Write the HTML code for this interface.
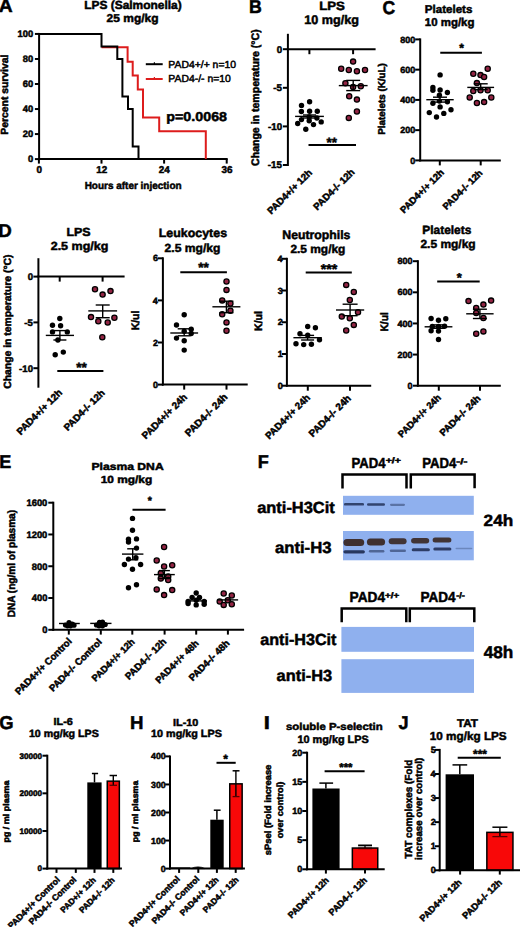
<!DOCTYPE html>
<html><head><meta charset="utf-8"><style>
html,body{margin:0;padding:0;background:#fff;}
body{width:520px;height:927px;overflow:hidden;}
svg{display:block;}
text{font-family:"Liberation Sans",sans-serif;stroke:#000;stroke-width:0.5px;text-rendering:geometricPrecision;}
</style></head><body>
<svg width="520" height="927" viewBox="0 0 520 927">
<rect width="520" height="927" fill="#fff"/>
<text transform="translate(-1.28,12.40) scale(1.0407,1)" font-size="18.5" font-weight="bold" fill="#000" >A</text>
<text transform="translate(84.22,8.75) scale(1.0208,1)" font-size="11.7" font-weight="bold" fill="#000" >LPS (Salmonella)</text>
<text transform="translate(106.58,21.60) scale(1.0522,1)" font-size="11.4" font-weight="bold" fill="#000" >25 mg/kg</text>
<line x1="39.10" y1="32.94" x2="39.10" y2="160.10" stroke="#000" stroke-width="2"/>
<line x1="34.90" y1="33.94" x2="39.10" y2="33.94" stroke="#000" stroke-width="2"/>
<line x1="34.90" y1="58.97" x2="39.10" y2="58.97" stroke="#000" stroke-width="2"/>
<line x1="34.90" y1="84.00" x2="39.10" y2="84.00" stroke="#000" stroke-width="2"/>
<line x1="34.90" y1="109.04" x2="39.10" y2="109.04" stroke="#000" stroke-width="2"/>
<line x1="34.90" y1="134.07" x2="39.10" y2="134.07" stroke="#000" stroke-width="2"/>
<line x1="34.90" y1="159.10" x2="39.10" y2="159.10" stroke="#000" stroke-width="2"/>
<text transform="translate(17.52,37.23) scale(1.0000,1)" font-size="9.4" font-weight="bold" fill="#000" >100</text>
<text transform="translate(22.74,62.26) scale(1.0000,1)" font-size="9.4" font-weight="bold" fill="#000" >80</text>
<text transform="translate(22.74,87.29) scale(1.0000,1)" font-size="9.4" font-weight="bold" fill="#000" >60</text>
<text transform="translate(22.74,112.33) scale(1.0000,1)" font-size="9.4" font-weight="bold" fill="#000" >40</text>
<text transform="translate(22.74,137.36) scale(1.0000,1)" font-size="9.4" font-weight="bold" fill="#000" >20</text>
<text transform="translate(27.96,162.39) scale(1.0000,1)" font-size="9.4" font-weight="bold" fill="#000" >0</text>
<line x1="38.10" y1="159.10" x2="227.71" y2="159.10" stroke="#000" stroke-width="2"/>
<line x1="38.90" y1="159.10" x2="38.90" y2="163.60" stroke="#000" stroke-width="2"/>
<line x1="101.50" y1="159.10" x2="101.50" y2="163.60" stroke="#000" stroke-width="2"/>
<line x1="164.11" y1="159.10" x2="164.11" y2="163.60" stroke="#000" stroke-width="2"/>
<line x1="226.71" y1="159.10" x2="226.71" y2="163.60" stroke="#000" stroke-width="2"/>
<text transform="translate(36.45,172.63) scale(1.0000,1)" font-size="9.9" font-weight="bold" fill="#000" >0</text>
<text transform="translate(96.19,172.63) scale(1.0000,1)" font-size="9.9" font-weight="bold" fill="#000" >12</text>
<text transform="translate(158.77,172.63) scale(1.0000,1)" font-size="9.9" font-weight="bold" fill="#000" >24</text>
<text transform="translate(221.57,172.63) scale(1.0000,1)" font-size="9.9" font-weight="bold" fill="#000" >36</text>
<text transform="translate(84.65,189.40) scale(0.9783,1)" font-size="10.2" font-weight="bold" fill="#000" >Hours after injection</text>
<text transform="translate(7.80,134.67) rotate(-90) scale(0.9970,1)" font-size="10.4" font-weight="bold" fill="#000" >Percent survival</text>
<path d="M101.50399999999999,47.2 H127.6 V61.72551999999999 H132.7 V75.61827999999998 H137.8 V89.51104 H143 V117.42172 H159.2 V131.31448 H205.8 V159.1" stroke="#dd1c1c" stroke-width="2" fill="none" />
<path d="M38.9,33.93999999999998 H101.50399999999999 V46.45599999999999 H117.3 V58.971999999999994 H122.4 V96.51999999999998 H128 V109.036 H132.7 V146.584 H138.5 V159.1" stroke="#000" stroke-width="2" fill="none" />
<line x1="145.80" y1="64.20" x2="162.70" y2="64.20" stroke="#000" stroke-width="2"/>
<line x1="154.40" y1="62.20" x2="154.40" y2="64.20" stroke="#000" stroke-width="1.2"/>
<line x1="145.80" y1="79.00" x2="162.70" y2="79.00" stroke="#dd1c1c" stroke-width="2"/>
<line x1="154.40" y1="77.00" x2="154.40" y2="79.00" stroke="#dd1c1c" stroke-width="1.2"/>
<text transform="translate(168.37,67.50) scale(1.0081,1)" font-size="10.3" font-weight="normal" fill="#000" >PAD4+/+ n=10</text>
<text transform="translate(168.37,81.90) scale(1.0088,1)" font-size="10.3" font-weight="normal" fill="#000" >PAD4-/- n=10</text>
<text transform="translate(166.27,121.20) scale(1.1082,1)" font-size="12.9" font-weight="bold" fill="#000" >p=0.0068</text>
<text transform="translate(248.95,12.70) scale(0.9570,1)" font-size="18.5" font-weight="bold" fill="#000" >B</text>
<text transform="translate(319.14,10.00) scale(1.1021,1)" font-size="12" font-weight="bold" fill="#000" >LPS</text>
<text transform="translate(304.18,24.40) scale(1.0102,1)" font-size="12.5" font-weight="bold" fill="#000" >10 mg/kg</text>
<line x1="287.90" y1="33.80" x2="287.90" y2="166.00" stroke="#000" stroke-width="2"/>
<line x1="282.90" y1="49.20" x2="287.90" y2="49.20" stroke="#000" stroke-width="2"/>
<line x1="282.90" y1="87.80" x2="287.90" y2="87.80" stroke="#000" stroke-width="2"/>
<line x1="282.90" y1="126.40" x2="287.90" y2="126.40" stroke="#000" stroke-width="2"/>
<line x1="282.90" y1="165.00" x2="287.90" y2="165.00" stroke="#000" stroke-width="2"/>
<text transform="translate(276.65,52.63) scale(1.0000,1)" font-size="9.8" font-weight="bold" fill="#000" >0</text>
<text transform="translate(273.22,91.23) scale(1.0000,1)" font-size="9.8" font-weight="bold" fill="#000" >-5</text>
<text transform="translate(267.93,129.83) scale(1.0000,1)" font-size="9.8" font-weight="bold" fill="#000" >-10</text>
<text transform="translate(267.78,168.43) scale(1.0000,1)" font-size="9.8" font-weight="bold" fill="#000" >-15</text>
<line x1="286.90" y1="49.20" x2="375.60" y2="49.20" stroke="#000" stroke-width="2"/>
<line x1="309.40" y1="49.20" x2="309.40" y2="54.20" stroke="#000" stroke-width="2"/>
<line x1="353.10" y1="49.20" x2="353.10" y2="54.20" stroke="#000" stroke-width="2"/>
<text transform="translate(258.50,165.92) rotate(-90) scale(0.9680,1)" font-size="10.9" font-weight="bold" fill="#000" >Change in temperature (°C)</text>
<circle cx="309.60" cy="101.80" r="2.70" fill="#000"/>
<circle cx="301.50" cy="105.40" r="2.70" fill="#000"/>
<circle cx="301.40" cy="111.50" r="2.70" fill="#000"/>
<circle cx="309.60" cy="111.20" r="2.70" fill="#000"/>
<circle cx="317.30" cy="111.30" r="2.70" fill="#000"/>
<circle cx="301.50" cy="119.60" r="2.70" fill="#000"/>
<circle cx="309.20" cy="116.90" r="2.70" fill="#000"/>
<circle cx="309.20" cy="120.80" r="2.70" fill="#000"/>
<circle cx="316.90" cy="118.00" r="2.70" fill="#000"/>
<circle cx="297.70" cy="123.50" r="2.70" fill="#000"/>
<circle cx="313.50" cy="124.60" r="2.70" fill="#000"/>
<circle cx="321.20" cy="121.90" r="2.70" fill="#000"/>
<circle cx="305.80" cy="129.20" r="2.70" fill="#000"/>
<line x1="295.10" y1="116.40" x2="323.90" y2="116.40" stroke="#000" stroke-width="1.4"/>
<line x1="303.00" y1="115.00" x2="316.00" y2="115.00" stroke="#000" stroke-width="1.4"/>
<line x1="303.00" y1="118.00" x2="316.00" y2="118.00" stroke="#000" stroke-width="1.4"/>
<line x1="309.50" y1="115.00" x2="309.50" y2="118.00" stroke="#000" stroke-width="1.4"/>
<circle cx="353.10" cy="61.60" r="2.60" fill="#922443" stroke="#000" stroke-width="1.3"/>
<circle cx="341.20" cy="68.80" r="2.60" fill="#922443" stroke="#000" stroke-width="1.3"/>
<circle cx="348.80" cy="70.00" r="2.60" fill="#922443" stroke="#000" stroke-width="1.3"/>
<circle cx="356.90" cy="71.30" r="2.60" fill="#922443" stroke="#000" stroke-width="1.3"/>
<circle cx="365.00" cy="70.00" r="2.60" fill="#922443" stroke="#000" stroke-width="1.3"/>
<circle cx="345.40" cy="83.30" r="2.60" fill="#922443" stroke="#000" stroke-width="1.3"/>
<circle cx="353.10" cy="87.10" r="2.60" fill="#922443" stroke="#000" stroke-width="1.3"/>
<circle cx="360.80" cy="86.20" r="2.60" fill="#922443" stroke="#000" stroke-width="1.3"/>
<circle cx="349.20" cy="96.20" r="2.60" fill="#922443" stroke="#000" stroke-width="1.3"/>
<circle cx="356.90" cy="99.60" r="2.60" fill="#922443" stroke="#000" stroke-width="1.3"/>
<circle cx="356.90" cy="111.50" r="2.60" fill="#922443" stroke="#000" stroke-width="1.3"/>
<circle cx="348.80" cy="117.90" r="2.60" fill="#922443" stroke="#000" stroke-width="1.3"/>
<line x1="338.80" y1="85.60" x2="367.60" y2="85.60" stroke="#000" stroke-width="1.4"/>
<line x1="346.20" y1="80.40" x2="360.20" y2="80.40" stroke="#000" stroke-width="1.4"/>
<line x1="346.20" y1="90.60" x2="360.20" y2="90.60" stroke="#000" stroke-width="1.4"/>
<line x1="353.20" y1="80.40" x2="353.20" y2="90.60" stroke="#000" stroke-width="1.4"/>
<line x1="308.50" y1="145.00" x2="356.00" y2="145.00" stroke="#000" stroke-width="2"/>
<text transform="translate(326.52,147.07) scale(1.0000,1)" font-size="13.4" font-weight="bold" fill="#000" >**</text>
<text transform="translate(271.28,214.69) rotate(-45) scale(1.0000,1)" font-size="9.7" font-weight="bold" fill="#000" >PAD4+/+ 12h</text>
<text transform="translate(317.25,210.63) rotate(-45) scale(1.0000,1)" font-size="9.7" font-weight="bold" fill="#000" >PAD4-/- 12h</text>
<text transform="translate(382.50,13.70) scale(0.9490,1)" font-size="18.5" font-weight="bold" fill="#000" >C</text>
<text transform="translate(424.85,12.50) scale(1.0231,1)" font-size="11.3" font-weight="bold" fill="#000" >Platelets</text>
<text transform="translate(424.86,25.60) scale(1.0133,1)" font-size="11.3" font-weight="bold" fill="#000" >10 mg/kg</text>
<line x1="420.20" y1="38.40" x2="420.20" y2="161.40" stroke="#000" stroke-width="2"/>
<line x1="415.20" y1="39.40" x2="420.20" y2="39.40" stroke="#000" stroke-width="2"/>
<line x1="415.20" y1="69.65" x2="420.20" y2="69.65" stroke="#000" stroke-width="2"/>
<line x1="415.20" y1="99.90" x2="420.20" y2="99.90" stroke="#000" stroke-width="2"/>
<line x1="415.20" y1="130.15" x2="420.20" y2="130.15" stroke="#000" stroke-width="2"/>
<line x1="415.20" y1="160.40" x2="420.20" y2="160.40" stroke="#000" stroke-width="2"/>
<text transform="translate(400.27,42.55) scale(1.0000,1)" font-size="9" font-weight="bold" fill="#000" >800</text>
<text transform="translate(400.27,72.80) scale(1.0000,1)" font-size="9" font-weight="bold" fill="#000" >600</text>
<text transform="translate(400.27,103.05) scale(1.0000,1)" font-size="9" font-weight="bold" fill="#000" >400</text>
<text transform="translate(400.27,133.30) scale(1.0000,1)" font-size="9" font-weight="bold" fill="#000" >200</text>
<text transform="translate(410.26,163.55) scale(1.0000,1)" font-size="9" font-weight="bold" fill="#000" >0</text>
<line x1="419.20" y1="160.40" x2="500.80" y2="160.40" stroke="#000" stroke-width="2"/>
<line x1="439.80" y1="160.40" x2="439.80" y2="165.40" stroke="#000" stroke-width="2"/>
<line x1="480.70" y1="160.40" x2="480.70" y2="165.40" stroke="#000" stroke-width="2"/>
<text transform="translate(385.30,134.74) rotate(-90) scale(0.9967,1)" font-size="9.9" font-weight="bold" fill="#000" >Platelets (K/uL)</text>
<circle cx="440.10" cy="74.90" r="2.70" fill="#000"/>
<circle cx="432.90" cy="87.40" r="2.70" fill="#000"/>
<circle cx="432.90" cy="90.30" r="2.70" fill="#000"/>
<circle cx="440.10" cy="90.00" r="2.70" fill="#000"/>
<circle cx="447.40" cy="92.50" r="2.70" fill="#000"/>
<circle cx="439.40" cy="95.30" r="2.70" fill="#000"/>
<circle cx="432.90" cy="103.30" r="2.70" fill="#000"/>
<circle cx="439.40" cy="101.10" r="2.70" fill="#000"/>
<circle cx="447.40" cy="101.80" r="2.70" fill="#000"/>
<circle cx="440.10" cy="106.90" r="2.70" fill="#000"/>
<circle cx="451.00" cy="109.80" r="2.70" fill="#000"/>
<circle cx="429.30" cy="112.60" r="2.70" fill="#000"/>
<circle cx="443.80" cy="113.40" r="2.70" fill="#000"/>
<circle cx="436.50" cy="117.00" r="2.70" fill="#000"/>
<line x1="426.30" y1="99.70" x2="453.70" y2="99.70" stroke="#000" stroke-width="1.4"/>
<line x1="433.00" y1="97.20" x2="447.00" y2="97.20" stroke="#000" stroke-width="1.4"/>
<line x1="433.00" y1="102.10" x2="447.00" y2="102.10" stroke="#000" stroke-width="1.4"/>
<line x1="440.00" y1="97.20" x2="440.00" y2="102.10" stroke="#000" stroke-width="1.4"/>
<circle cx="487.70" cy="68.70" r="2.60" fill="#922443" stroke="#000" stroke-width="1.3"/>
<circle cx="473.30" cy="73.70" r="2.60" fill="#922443" stroke="#000" stroke-width="1.3"/>
<circle cx="480.50" cy="75.10" r="2.60" fill="#922443" stroke="#000" stroke-width="1.3"/>
<circle cx="484.10" cy="77.00" r="2.60" fill="#922443" stroke="#000" stroke-width="1.3"/>
<circle cx="476.90" cy="83.10" r="2.60" fill="#922443" stroke="#000" stroke-width="1.3"/>
<circle cx="473.30" cy="91.00" r="2.60" fill="#922443" stroke="#000" stroke-width="1.3"/>
<circle cx="480.50" cy="90.30" r="2.60" fill="#922443" stroke="#000" stroke-width="1.3"/>
<circle cx="487.70" cy="90.30" r="2.60" fill="#922443" stroke="#000" stroke-width="1.3"/>
<circle cx="469.70" cy="97.50" r="2.60" fill="#922443" stroke="#000" stroke-width="1.3"/>
<circle cx="491.30" cy="97.50" r="2.60" fill="#922443" stroke="#000" stroke-width="1.3"/>
<circle cx="476.90" cy="103.00" r="2.60" fill="#922443" stroke="#000" stroke-width="1.3"/>
<circle cx="484.10" cy="102.10" r="2.60" fill="#922443" stroke="#000" stroke-width="1.3"/>
<line x1="467.30" y1="87.40" x2="494.10" y2="87.40" stroke="#000" stroke-width="1.4"/>
<line x1="473.70" y1="83.80" x2="487.70" y2="83.80" stroke="#000" stroke-width="1.4"/>
<line x1="473.70" y1="89.60" x2="487.70" y2="89.60" stroke="#000" stroke-width="1.4"/>
<line x1="480.70" y1="83.80" x2="480.70" y2="89.60" stroke="#000" stroke-width="1.4"/>
<line x1="440.25" y1="52.75" x2="481.90" y2="52.75" stroke="#000" stroke-width="2"/>
<text transform="translate(459.36,51.76) scale(1.0000,1)" font-size="12" font-weight="bold" fill="#000" >*</text>
<text transform="translate(403.93,213.74) rotate(-45) scale(1.0000,1)" font-size="9.5" font-weight="bold" fill="#000" >PAD4+/+ 12h</text>
<text transform="translate(446.41,210.31) rotate(-45) scale(1.0000,1)" font-size="9.4" font-weight="bold" fill="#000" >PAD4-/- 12h</text>
<text transform="translate(-1.72,237.30) scale(1.0108,1)" font-size="18.5" font-weight="bold" fill="#000" >D</text>
<text transform="translate(66.39,235.90) scale(1.0519,1)" font-size="11.8" font-weight="bold" fill="#000" >LPS</text>
<text transform="translate(50.66,249.60) scale(1.0617,1)" font-size="11.8" font-weight="bold" fill="#000" >2.5 mg/kg</text>
<line x1="38.40" y1="258.20" x2="38.40" y2="387.70" stroke="#000" stroke-width="2"/>
<line x1="33.40" y1="276.60" x2="38.40" y2="276.60" stroke="#000" stroke-width="2"/>
<line x1="33.40" y1="322.40" x2="38.40" y2="322.40" stroke="#000" stroke-width="2"/>
<line x1="33.40" y1="368.20" x2="38.40" y2="368.20" stroke="#000" stroke-width="2"/>
<text transform="translate(27.66,279.96) scale(1.0000,1)" font-size="9.6" font-weight="bold" fill="#000" >0</text>
<text transform="translate(24.30,325.76) scale(1.0000,1)" font-size="9.6" font-weight="bold" fill="#000" >-5</text>
<text transform="translate(19.11,371.56) scale(1.0000,1)" font-size="9.6" font-weight="bold" fill="#000" >-10</text>
<line x1="37.40" y1="276.60" x2="124.60" y2="276.60" stroke="#000" stroke-width="2"/>
<line x1="59.70" y1="276.60" x2="59.70" y2="281.60" stroke="#000" stroke-width="2"/>
<line x1="102.60" y1="276.60" x2="102.60" y2="281.60" stroke="#000" stroke-width="2"/>
<text transform="translate(11.20,388.71) rotate(-90) scale(0.9967,1)" font-size="10.4" font-weight="bold" fill="#000" >Change in temperature (°C)</text>
<circle cx="59.80" cy="318.50" r="2.70" fill="#000"/>
<circle cx="52.50" cy="325.20" r="2.70" fill="#000"/>
<circle cx="60.60" cy="325.70" r="2.70" fill="#000"/>
<circle cx="52.50" cy="331.90" r="2.70" fill="#000"/>
<circle cx="67.30" cy="331.90" r="2.70" fill="#000"/>
<circle cx="57.90" cy="340.00" r="2.70" fill="#000"/>
<circle cx="55.20" cy="354.80" r="2.70" fill="#000"/>
<circle cx="63.30" cy="352.10" r="2.70" fill="#000"/>
<line x1="45.80" y1="335.40" x2="74.00" y2="335.40" stroke="#000" stroke-width="1.4"/>
<line x1="53.40" y1="330.60" x2="66.40" y2="330.60" stroke="#000" stroke-width="1.4"/>
<line x1="53.40" y1="340.00" x2="66.40" y2="340.00" stroke="#000" stroke-width="1.4"/>
<line x1="59.90" y1="330.60" x2="59.90" y2="340.00" stroke="#000" stroke-width="1.4"/>
<circle cx="95.00" cy="289.30" r="2.60" fill="#922443" stroke="#000" stroke-width="1.3"/>
<circle cx="110.50" cy="291.10" r="2.60" fill="#922443" stroke="#000" stroke-width="1.3"/>
<circle cx="102.60" cy="294.60" r="2.60" fill="#922443" stroke="#000" stroke-width="1.3"/>
<circle cx="91.00" cy="317.10" r="2.60" fill="#922443" stroke="#000" stroke-width="1.3"/>
<circle cx="98.30" cy="321.20" r="2.60" fill="#922443" stroke="#000" stroke-width="1.3"/>
<circle cx="107.70" cy="322.50" r="2.60" fill="#922443" stroke="#000" stroke-width="1.3"/>
<circle cx="114.40" cy="317.70" r="2.60" fill="#922443" stroke="#000" stroke-width="1.3"/>
<circle cx="102.30" cy="337.30" r="2.60" fill="#922443" stroke="#000" stroke-width="1.3"/>
<line x1="88.30" y1="310.90" x2="117.10" y2="310.90" stroke="#000" stroke-width="1.4"/>
<line x1="95.70" y1="305.00" x2="109.70" y2="305.00" stroke="#000" stroke-width="1.4"/>
<line x1="95.70" y1="317.70" x2="109.70" y2="317.70" stroke="#000" stroke-width="1.4"/>
<line x1="102.70" y1="305.00" x2="102.70" y2="317.70" stroke="#000" stroke-width="1.4"/>
<line x1="57.30" y1="370.90" x2="103.40" y2="370.90" stroke="#000" stroke-width="2"/>
<text transform="translate(76.30,372.27) scale(1.0000,1)" font-size="13.6" font-weight="bold" fill="#000" >**</text>
<text transform="translate(20.64,435.44) rotate(-45) scale(1.0000,1)" font-size="9.9" font-weight="bold" fill="#000" >PAD4+/+ 12h</text>
<text transform="translate(67.73,431.19) rotate(-45) scale(1.0000,1)" font-size="9.6" font-weight="bold" fill="#000" >PAD4-/- 12h</text>
<text transform="translate(158.79,237.40) scale(1.0334,1)" font-size="12" font-weight="bold" fill="#000" >Leukocytes</text>
<text transform="translate(164.58,251.50) scale(1.0260,1)" font-size="11.8" font-weight="bold" fill="#000" >2.5 mg/kg</text>
<line x1="162.90" y1="257.30" x2="162.90" y2="385.60" stroke="#000" stroke-width="2"/>
<line x1="157.90" y1="258.30" x2="162.90" y2="258.30" stroke="#000" stroke-width="2"/>
<line x1="157.90" y1="300.40" x2="162.90" y2="300.40" stroke="#000" stroke-width="2"/>
<line x1="157.90" y1="342.50" x2="162.90" y2="342.50" stroke="#000" stroke-width="2"/>
<line x1="157.90" y1="384.60" x2="162.90" y2="384.60" stroke="#000" stroke-width="2"/>
<text transform="translate(152.92,261.45) scale(1.0000,1)" font-size="9" font-weight="bold" fill="#000" >6</text>
<text transform="translate(152.65,303.55) scale(1.0000,1)" font-size="9" font-weight="bold" fill="#000" >4</text>
<text transform="translate(152.97,345.65) scale(1.0000,1)" font-size="9" font-weight="bold" fill="#000" >2</text>
<text transform="translate(152.96,387.75) scale(1.0000,1)" font-size="9" font-weight="bold" fill="#000" >0</text>
<line x1="161.90" y1="384.60" x2="247.70" y2="384.60" stroke="#000" stroke-width="2"/>
<line x1="184.20" y1="384.60" x2="184.20" y2="389.60" stroke="#000" stroke-width="2"/>
<line x1="226.50" y1="384.60" x2="226.50" y2="389.60" stroke="#000" stroke-width="2"/>
<text transform="translate(138.70,330.28) rotate(-90) scale(0.9630,1)" font-size="10.8" font-weight="bold" fill="#000" >K/ul</text>
<circle cx="184.20" cy="314.70" r="2.70" fill="#000"/>
<circle cx="176.50" cy="325.00" r="2.70" fill="#000"/>
<circle cx="184.20" cy="331.20" r="2.70" fill="#000"/>
<circle cx="191.20" cy="329.20" r="2.70" fill="#000"/>
<circle cx="176.50" cy="338.10" r="2.70" fill="#000"/>
<circle cx="184.20" cy="340.80" r="2.70" fill="#000"/>
<circle cx="191.20" cy="333.50" r="2.70" fill="#000"/>
<circle cx="184.20" cy="350.10" r="2.70" fill="#000"/>
<line x1="170.30" y1="333.00" x2="198.10" y2="333.00" stroke="#000" stroke-width="1.4"/>
<line x1="177.70" y1="328.80" x2="190.70" y2="328.80" stroke="#000" stroke-width="1.4"/>
<line x1="177.70" y1="335.80" x2="190.70" y2="335.80" stroke="#000" stroke-width="1.4"/>
<line x1="184.20" y1="328.80" x2="184.20" y2="335.80" stroke="#000" stroke-width="1.4"/>
<circle cx="226.50" cy="281.50" r="2.60" fill="#922443" stroke="#000" stroke-width="1.3"/>
<circle cx="226.50" cy="289.90" r="2.60" fill="#922443" stroke="#000" stroke-width="1.3"/>
<circle cx="222.20" cy="300.40" r="2.60" fill="#922443" stroke="#000" stroke-width="1.3"/>
<circle cx="230.40" cy="303.50" r="2.60" fill="#922443" stroke="#000" stroke-width="1.3"/>
<circle cx="230.40" cy="310.70" r="2.60" fill="#922443" stroke="#000" stroke-width="1.3"/>
<circle cx="222.20" cy="314.20" r="2.60" fill="#922443" stroke="#000" stroke-width="1.3"/>
<circle cx="226.50" cy="322.40" r="2.60" fill="#922443" stroke="#000" stroke-width="1.3"/>
<circle cx="226.50" cy="330.70" r="2.60" fill="#922443" stroke="#000" stroke-width="1.3"/>
<line x1="212.40" y1="306.80" x2="240.40" y2="306.80" stroke="#000" stroke-width="1.4"/>
<line x1="219.40" y1="301.20" x2="233.40" y2="301.20" stroke="#000" stroke-width="1.4"/>
<line x1="219.40" y1="312.70" x2="233.40" y2="312.70" stroke="#000" stroke-width="1.4"/>
<line x1="226.40" y1="301.20" x2="226.40" y2="312.70" stroke="#000" stroke-width="1.4"/>
<line x1="180.30" y1="272.20" x2="226.90" y2="272.20" stroke="#000" stroke-width="2"/>
<text transform="translate(198.30,272.37) scale(1.0000,1)" font-size="13.6" font-weight="bold" fill="#000" >**</text>
<text transform="translate(145.86,439.56) rotate(-45) scale(1.0000,1)" font-size="9.8" font-weight="bold" fill="#000" >PAD4+/+ 24h</text>
<text transform="translate(188.99,436.94) rotate(-45) scale(1.0000,1)" font-size="10" font-weight="bold" fill="#000" >PAD4-/- 24h</text>
<text transform="translate(282.30,238.90) scale(1.0062,1)" font-size="12.2" font-weight="bold" fill="#000" >Neutrophils</text>
<text transform="translate(290.38,252.50) scale(1.0109,1)" font-size="11.8" font-weight="bold" fill="#000" >2.5 mg/kg</text>
<line x1="286.90" y1="257.80" x2="286.90" y2="386.70" stroke="#000" stroke-width="2"/>
<line x1="281.90" y1="258.80" x2="286.90" y2="258.80" stroke="#000" stroke-width="2"/>
<line x1="281.90" y1="290.52" x2="286.90" y2="290.52" stroke="#000" stroke-width="2"/>
<line x1="281.90" y1="322.25" x2="286.90" y2="322.25" stroke="#000" stroke-width="2"/>
<line x1="281.90" y1="353.98" x2="286.90" y2="353.98" stroke="#000" stroke-width="2"/>
<line x1="281.90" y1="385.70" x2="286.90" y2="385.70" stroke="#000" stroke-width="2"/>
<text transform="translate(277.45,261.95) scale(1.0000,1)" font-size="9" font-weight="bold" fill="#000" >4</text>
<text transform="translate(277.72,293.67) scale(1.0000,1)" font-size="9" font-weight="bold" fill="#000" >3</text>
<text transform="translate(277.76,325.40) scale(1.0000,1)" font-size="9" font-weight="bold" fill="#000" >2</text>
<text transform="translate(277.63,357.12) scale(1.0000,1)" font-size="9" font-weight="bold" fill="#000" >1</text>
<text transform="translate(277.76,388.85) scale(1.0000,1)" font-size="9" font-weight="bold" fill="#000" >0</text>
<line x1="285.90" y1="385.70" x2="371.20" y2="385.70" stroke="#000" stroke-width="2"/>
<line x1="307.80" y1="385.70" x2="307.80" y2="390.70" stroke="#000" stroke-width="2"/>
<line x1="350.00" y1="385.70" x2="350.00" y2="390.70" stroke="#000" stroke-width="2"/>
<text transform="translate(262.40,330.99) rotate(-90) scale(0.9788,1)" font-size="10.8" font-weight="bold" fill="#000" >K/ul</text>
<circle cx="307.70" cy="326.50" r="2.70" fill="#000"/>
<circle cx="315.40" cy="327.70" r="2.70" fill="#000"/>
<circle cx="300.00" cy="333.80" r="2.70" fill="#000"/>
<circle cx="307.70" cy="335.10" r="2.70" fill="#000"/>
<circle cx="319.50" cy="339.70" r="2.70" fill="#000"/>
<circle cx="296.00" cy="343.80" r="2.70" fill="#000"/>
<circle cx="303.70" cy="344.60" r="2.70" fill="#000"/>
<circle cx="311.40" cy="344.30" r="2.70" fill="#000"/>
<line x1="293.40" y1="337.70" x2="321.80" y2="337.70" stroke="#000" stroke-width="1.4"/>
<line x1="301.10" y1="335.40" x2="314.10" y2="335.40" stroke="#000" stroke-width="1.4"/>
<line x1="301.10" y1="340.00" x2="314.10" y2="340.00" stroke="#000" stroke-width="1.4"/>
<line x1="307.60" y1="335.40" x2="307.60" y2="340.00" stroke="#000" stroke-width="1.4"/>
<circle cx="346.20" cy="284.90" r="2.60" fill="#922443" stroke="#000" stroke-width="1.3"/>
<circle cx="353.80" cy="292.00" r="2.60" fill="#922443" stroke="#000" stroke-width="1.3"/>
<circle cx="349.80" cy="300.00" r="2.60" fill="#922443" stroke="#000" stroke-width="1.3"/>
<circle cx="358.00" cy="312.30" r="2.60" fill="#922443" stroke="#000" stroke-width="1.3"/>
<circle cx="341.80" cy="316.60" r="2.60" fill="#922443" stroke="#000" stroke-width="1.3"/>
<circle cx="349.80" cy="318.20" r="2.60" fill="#922443" stroke="#000" stroke-width="1.3"/>
<circle cx="353.80" cy="324.90" r="2.60" fill="#922443" stroke="#000" stroke-width="1.3"/>
<circle cx="346.20" cy="330.50" r="2.60" fill="#922443" stroke="#000" stroke-width="1.3"/>
<line x1="336.00" y1="310.00" x2="364.20" y2="310.00" stroke="#000" stroke-width="1.4"/>
<line x1="342.60" y1="304.20" x2="357.60" y2="304.20" stroke="#000" stroke-width="1.4"/>
<line x1="342.60" y1="315.70" x2="357.60" y2="315.70" stroke="#000" stroke-width="1.4"/>
<line x1="350.10" y1="304.20" x2="350.10" y2="315.70" stroke="#000" stroke-width="1.4"/>
<line x1="305.70" y1="272.60" x2="351.80" y2="272.60" stroke="#000" stroke-width="2"/>
<text transform="translate(320.79,273.57) scale(1.0000,1)" font-size="14.2" font-weight="bold" fill="#000" >***</text>
<text transform="translate(269.28,439.69) rotate(-45) scale(1.0000,1)" font-size="9.7" font-weight="bold" fill="#000" >PAD4+/+ 24h</text>
<text transform="translate(312.87,437.60) rotate(-45) scale(1.0000,1)" font-size="9.9" font-weight="bold" fill="#000" >PAD4-/- 24h</text>
<text transform="translate(422.33,233.80) scale(1.0008,1)" font-size="11.9" font-weight="bold" fill="#000" >Platelets</text>
<text transform="translate(420.38,248.00) scale(1.0166,1)" font-size="11.8" font-weight="bold" fill="#000" >2.5 mg/kg</text>
<line x1="417.90" y1="260.20" x2="417.90" y2="386.70" stroke="#000" stroke-width="2"/>
<line x1="412.90" y1="261.20" x2="417.90" y2="261.20" stroke="#000" stroke-width="2"/>
<line x1="412.90" y1="292.32" x2="417.90" y2="292.32" stroke="#000" stroke-width="2"/>
<line x1="412.90" y1="323.45" x2="417.90" y2="323.45" stroke="#000" stroke-width="2"/>
<line x1="412.90" y1="354.57" x2="417.90" y2="354.57" stroke="#000" stroke-width="2"/>
<line x1="412.90" y1="385.70" x2="417.90" y2="385.70" stroke="#000" stroke-width="2"/>
<text transform="translate(397.57,264.35) scale(1.0000,1)" font-size="9" font-weight="bold" fill="#000" >800</text>
<text transform="translate(397.57,295.47) scale(1.0000,1)" font-size="9" font-weight="bold" fill="#000" >600</text>
<text transform="translate(397.57,326.60) scale(1.0000,1)" font-size="9" font-weight="bold" fill="#000" >400</text>
<text transform="translate(397.57,357.72) scale(1.0000,1)" font-size="9" font-weight="bold" fill="#000" >200</text>
<text transform="translate(407.56,388.85) scale(1.0000,1)" font-size="9" font-weight="bold" fill="#000" >0</text>
<line x1="416.90" y1="385.70" x2="500.80" y2="385.70" stroke="#000" stroke-width="2"/>
<line x1="438.80" y1="385.70" x2="438.80" y2="390.70" stroke="#000" stroke-width="2"/>
<line x1="480.00" y1="385.70" x2="480.00" y2="390.70" stroke="#000" stroke-width="2"/>
<text transform="translate(387.80,331.56) rotate(-90) scale(0.9471,1)" font-size="10.8" font-weight="bold" fill="#000" >K/ul</text>
<circle cx="431.10" cy="318.50" r="2.70" fill="#000"/>
<circle cx="438.50" cy="320.30" r="2.70" fill="#000"/>
<circle cx="445.80" cy="318.80" r="2.70" fill="#000"/>
<circle cx="432.30" cy="326.50" r="2.70" fill="#000"/>
<circle cx="438.50" cy="326.50" r="2.70" fill="#000"/>
<circle cx="444.60" cy="326.20" r="2.70" fill="#000"/>
<circle cx="431.10" cy="330.80" r="2.70" fill="#000"/>
<circle cx="438.50" cy="331.10" r="2.70" fill="#000"/>
<circle cx="438.50" cy="339.50" r="2.70" fill="#000"/>
<line x1="424.60" y1="326.80" x2="452.40" y2="326.80" stroke="#000" stroke-width="1.4"/>
<line x1="432.00" y1="324.90" x2="445.00" y2="324.90" stroke="#000" stroke-width="1.4"/>
<line x1="432.00" y1="328.30" x2="445.00" y2="328.30" stroke="#000" stroke-width="1.4"/>
<line x1="438.50" y1="324.90" x2="438.50" y2="328.30" stroke="#000" stroke-width="1.4"/>
<circle cx="468.50" cy="301.10" r="2.60" fill="#922443" stroke="#000" stroke-width="1.3"/>
<circle cx="491.10" cy="300.60" r="2.60" fill="#922443" stroke="#000" stroke-width="1.3"/>
<circle cx="483.40" cy="304.60" r="2.60" fill="#922443" stroke="#000" stroke-width="1.3"/>
<circle cx="476.20" cy="308.00" r="2.60" fill="#922443" stroke="#000" stroke-width="1.3"/>
<circle cx="476.20" cy="312.90" r="2.60" fill="#922443" stroke="#000" stroke-width="1.3"/>
<circle cx="483.40" cy="318.00" r="2.60" fill="#922443" stroke="#000" stroke-width="1.3"/>
<circle cx="476.20" cy="333.80" r="2.60" fill="#922443" stroke="#000" stroke-width="1.3"/>
<circle cx="483.40" cy="331.40" r="2.60" fill="#922443" stroke="#000" stroke-width="1.3"/>
<line x1="466.20" y1="313.80" x2="493.60" y2="313.80" stroke="#000" stroke-width="1.4"/>
<line x1="472.90" y1="309.20" x2="486.90" y2="309.20" stroke="#000" stroke-width="1.4"/>
<line x1="472.90" y1="318.50" x2="486.90" y2="318.50" stroke="#000" stroke-width="1.4"/>
<line x1="479.90" y1="309.20" x2="479.90" y2="318.50" stroke="#000" stroke-width="1.4"/>
<line x1="437.20" y1="281.50" x2="479.70" y2="281.50" stroke="#000" stroke-width="2"/>
<text transform="translate(456.78,281.51) scale(1.0000,1)" font-size="12.9" font-weight="bold" fill="#000" >*</text>
<text transform="translate(401.77,437.99) rotate(-45) scale(1.0000,1)" font-size="9.3" font-weight="bold" fill="#000" >PAD4+/+ 24h</text>
<text transform="translate(443.53,436.59) rotate(-45) scale(1.0000,1)" font-size="9.6" font-weight="bold" fill="#000" >PAD4-/- 24h</text>
<text transform="translate(-0.67,467.60) scale(0.9758,1)" font-size="18.5" font-weight="bold" fill="#000" >E</text>
<text transform="translate(91.51,470.30) scale(1.1905,1)" font-size="10.2" font-weight="bold" fill="#000" >Plasma DNA</text>
<text transform="translate(100.73,483.40) scale(1.1521,1)" font-size="10.3" font-weight="bold" fill="#000" >10 mg/kg</text>
<line x1="53.30" y1="501.70" x2="53.30" y2="630.80" stroke="#000" stroke-width="2"/>
<line x1="48.30" y1="502.70" x2="53.30" y2="502.70" stroke="#000" stroke-width="2"/>
<line x1="48.30" y1="534.47" x2="53.30" y2="534.47" stroke="#000" stroke-width="2"/>
<line x1="48.30" y1="566.25" x2="53.30" y2="566.25" stroke="#000" stroke-width="2"/>
<line x1="48.30" y1="598.02" x2="53.30" y2="598.02" stroke="#000" stroke-width="2"/>
<line x1="48.30" y1="629.80" x2="53.30" y2="629.80" stroke="#000" stroke-width="2"/>
<text transform="translate(26.46,505.99) scale(1.0000,1)" font-size="9.4" font-weight="bold" fill="#000" >1600</text>
<text transform="translate(26.46,537.76) scale(1.0000,1)" font-size="9.4" font-weight="bold" fill="#000" >1200</text>
<text transform="translate(31.72,569.54) scale(1.0000,1)" font-size="9.4" font-weight="bold" fill="#000" >800</text>
<text transform="translate(31.73,601.31) scale(1.0000,1)" font-size="9.4" font-weight="bold" fill="#000" >400</text>
<text transform="translate(42.16,633.09) scale(1.0000,1)" font-size="9.4" font-weight="bold" fill="#000" >0</text>
<line x1="52.30" y1="629.80" x2="244.10" y2="629.80" stroke="#000" stroke-width="2"/>
<line x1="68.80" y1="629.80" x2="68.80" y2="634.60" stroke="#000" stroke-width="2"/>
<line x1="100.80" y1="629.80" x2="100.80" y2="634.60" stroke="#000" stroke-width="2"/>
<line x1="132.30" y1="629.80" x2="132.30" y2="634.60" stroke="#000" stroke-width="2"/>
<line x1="164.60" y1="629.80" x2="164.60" y2="634.60" stroke="#000" stroke-width="2"/>
<line x1="196.20" y1="629.80" x2="196.20" y2="634.60" stroke="#000" stroke-width="2"/>
<line x1="227.90" y1="629.80" x2="227.90" y2="634.60" stroke="#000" stroke-width="2"/>
<text transform="translate(14.70,617.35) rotate(-90) scale(0.9483,1)" font-size="10.6" font-weight="bold" fill="#000" >DNA (ng/ml of plasma)</text>
<circle cx="65.50" cy="625.00" r="2.60" fill="#000"/>
<circle cx="69.00" cy="622.60" r="2.60" fill="#000"/>
<circle cx="72.20" cy="624.00" r="2.60" fill="#000"/>
<circle cx="74.00" cy="625.20" r="2.60" fill="#000"/>
<circle cx="67.50" cy="625.80" r="2.60" fill="#000"/>
<circle cx="70.50" cy="625.80" r="2.60" fill="#000"/>
<line x1="59.00" y1="623.50" x2="79.80" y2="623.50" stroke="#000" stroke-width="1.4"/>
<circle cx="96.50" cy="625.00" r="2.60" fill="#000"/>
<circle cx="99.50" cy="622.30" r="2.60" fill="#000"/>
<circle cx="102.50" cy="622.00" r="2.60" fill="#000"/>
<circle cx="105.20" cy="624.50" r="2.60" fill="#000"/>
<circle cx="99.00" cy="625.80" r="2.60" fill="#000"/>
<circle cx="102.50" cy="625.80" r="2.60" fill="#000"/>
<line x1="90.20" y1="623.40" x2="111.50" y2="623.40" stroke="#000" stroke-width="1.4"/>
<circle cx="132.50" cy="518.40" r="2.70" fill="#000"/>
<circle cx="132.50" cy="530.20" r="2.70" fill="#000"/>
<circle cx="128.50" cy="539.30" r="2.70" fill="#000"/>
<circle cx="136.50" cy="538.90" r="2.70" fill="#000"/>
<circle cx="128.50" cy="542.00" r="2.70" fill="#000"/>
<circle cx="136.50" cy="548.10" r="2.70" fill="#000"/>
<circle cx="128.50" cy="559.10" r="2.70" fill="#000"/>
<circle cx="135.90" cy="557.80" r="2.70" fill="#000"/>
<circle cx="124.40" cy="564.50" r="2.70" fill="#000"/>
<circle cx="140.60" cy="564.50" r="2.70" fill="#000"/>
<circle cx="132.50" cy="569.20" r="2.70" fill="#000"/>
<circle cx="136.50" cy="584.70" r="2.70" fill="#000"/>
<circle cx="128.50" cy="587.80" r="2.70" fill="#000"/>
<line x1="122.00" y1="554.10" x2="143.40" y2="554.10" stroke="#000" stroke-width="1.4"/>
<line x1="127.20" y1="548.80" x2="138.20" y2="548.80" stroke="#000" stroke-width="1.4"/>
<line x1="127.20" y1="559.80" x2="138.20" y2="559.80" stroke="#000" stroke-width="1.4"/>
<line x1="132.70" y1="548.80" x2="132.70" y2="559.80" stroke="#000" stroke-width="1.4"/>
<circle cx="164.10" cy="547.00" r="2.60" fill="#922443" stroke="#000" stroke-width="1.3"/>
<circle cx="156.70" cy="560.50" r="2.60" fill="#922443" stroke="#000" stroke-width="1.3"/>
<circle cx="164.10" cy="566.50" r="2.60" fill="#922443" stroke="#000" stroke-width="1.3"/>
<circle cx="172.20" cy="565.20" r="2.60" fill="#922443" stroke="#000" stroke-width="1.3"/>
<circle cx="160.80" cy="573.30" r="2.60" fill="#922443" stroke="#000" stroke-width="1.3"/>
<circle cx="168.20" cy="576.60" r="2.60" fill="#922443" stroke="#000" stroke-width="1.3"/>
<circle cx="160.80" cy="578.60" r="2.60" fill="#922443" stroke="#000" stroke-width="1.3"/>
<circle cx="168.20" cy="580.00" r="2.60" fill="#922443" stroke="#000" stroke-width="1.3"/>
<circle cx="156.70" cy="589.40" r="2.60" fill="#922443" stroke="#000" stroke-width="1.3"/>
<circle cx="172.20" cy="590.10" r="2.60" fill="#922443" stroke="#000" stroke-width="1.3"/>
<circle cx="164.10" cy="595.10" r="2.60" fill="#922443" stroke="#000" stroke-width="1.3"/>
<line x1="154.00" y1="574.60" x2="174.80" y2="574.60" stroke="#000" stroke-width="1.4"/>
<line x1="158.90" y1="570.60" x2="169.90" y2="570.60" stroke="#000" stroke-width="1.4"/>
<line x1="158.90" y1="578.60" x2="169.90" y2="578.60" stroke="#000" stroke-width="1.4"/>
<line x1="164.40" y1="570.60" x2="164.40" y2="578.60" stroke="#000" stroke-width="1.4"/>
<circle cx="196.20" cy="593.00" r="2.70" fill="#000"/>
<circle cx="192.10" cy="597.50" r="2.70" fill="#000"/>
<circle cx="199.50" cy="597.50" r="2.70" fill="#000"/>
<circle cx="188.10" cy="601.50" r="2.70" fill="#000"/>
<circle cx="196.20" cy="600.20" r="2.70" fill="#000"/>
<circle cx="204.20" cy="601.50" r="2.70" fill="#000"/>
<circle cx="188.10" cy="603.60" r="2.70" fill="#000"/>
<circle cx="196.20" cy="604.90" r="2.70" fill="#000"/>
<circle cx="204.20" cy="604.20" r="2.70" fill="#000"/>
<line x1="186.00" y1="600.90" x2="207.00" y2="600.90" stroke="#000" stroke-width="1.4"/>
<circle cx="223.70" cy="593.50" r="2.60" fill="#922443" stroke="#000" stroke-width="1.3"/>
<circle cx="231.80" cy="595.50" r="2.60" fill="#922443" stroke="#000" stroke-width="1.3"/>
<circle cx="219.70" cy="601.50" r="2.60" fill="#922443" stroke="#000" stroke-width="1.3"/>
<circle cx="227.80" cy="600.20" r="2.60" fill="#922443" stroke="#000" stroke-width="1.3"/>
<circle cx="223.70" cy="604.90" r="2.60" fill="#922443" stroke="#000" stroke-width="1.3"/>
<circle cx="231.80" cy="604.20" r="2.60" fill="#922443" stroke="#000" stroke-width="1.3"/>
<line x1="217.70" y1="599.90" x2="238.10" y2="599.90" stroke="#000" stroke-width="1.4"/>
<line x1="132.50" y1="509.80" x2="165.60" y2="509.80" stroke="#000" stroke-width="2"/>
<text transform="translate(147.65,503.90) scale(1.0000,1)" font-size="10.5" font-weight="bold" fill="#000" >*</text>
<text transform="translate(18.95,695.27) rotate(-45) scale(1.0000,1)" font-size="9.6" font-weight="bold" fill="#000" >PAD4+/+ Control</text>
<text transform="translate(52.90,691.97) rotate(-45) scale(1.0000,1)" font-size="9.5" font-weight="bold" fill="#000" >PAD4-/- Control</text>
<text transform="translate(95.57,682.09) rotate(-45) scale(1.0000,1)" font-size="9.3" font-weight="bold" fill="#000" >PAD4+/+ 12h</text>
<text transform="translate(129.05,680.23) rotate(-45) scale(1.0000,1)" font-size="9.7" font-weight="bold" fill="#000" >PAD4-/- 12h</text>
<text transform="translate(159.15,683.97) rotate(-45) scale(1.0000,1)" font-size="9.4" font-weight="bold" fill="#000" >PAD4+/+ 48h</text>
<text transform="translate(192.63,681.49) rotate(-45) scale(1.0000,1)" font-size="9.6" font-weight="bold" fill="#000" >PAD4-/- 48h</text>
<text transform="translate(257.63,467.90) scale(0.9751,1)" font-size="18.5" font-weight="bold" fill="#000" >F</text>
<text transform="translate(351.55,467.90) scale(0.8997,1)" font-size="14.6" font-weight="bold" fill="#000" >PAD4</text>
<text transform="translate(385.68,463.30) scale(1.3525,1)" font-size="7.8" font-weight="bold" fill="#000" >+/+</text>
<text transform="translate(422.24,468.10) scale(0.9024,1)" font-size="14.6" font-weight="bold" fill="#000" >PAD4</text>
<text transform="translate(456.33,463.90) scale(1.4970,1)" font-size="7.8" font-weight="bold" fill="#000" >-/-</text>
<path d="M342.5,488.5 V474.5 H406.5 V488.5" stroke="#000" stroke-width="2.5" fill="none" />
<path d="M410.8,488.5 V474.5 H474.6 V488.3" stroke="#000" stroke-width="2.5" fill="none" />
<rect x="343.00" y="495.80" width="130.80" height="19.00" fill="#8fb0ee" />
<rect x="343.00" y="531.00" width="130.80" height="29.30" fill="#8fb0ee" />
<text transform="translate(257.21,513.40) scale(1.0256,1)" font-size="16" font-weight="bold" fill="#000" >anti-H3Cit</text>
<text transform="translate(274.90,552.70) scale(1.0432,1)" font-size="16" font-weight="bold" fill="#000" >anti-H3</text>
<text transform="translate(483.60,525.70) scale(1.0598,1)" font-size="16.2" font-weight="bold" fill="#000" >24h</text>
<defs><filter id="bl" x="-20%" y="-100%" width="140%" height="300%"><feGaussianBlur stdDeviation="0.55"/></filter></defs>
<rect x="344.0" y="503.1" width="20.0" height="2.5" rx="1.2" fill="#1e2a50" opacity="0.8" filter="url(#bl)"/>
<rect x="367.0" y="503.2" width="18.0" height="2.5" rx="1.2" fill="#1e2a50" opacity="0.8" filter="url(#bl)"/>
<rect x="390.0" y="503.8" width="15.0" height="2.1" rx="1.1" fill="#1e2a50" opacity="0.45" filter="url(#bl)"/>
<rect x="343.4" y="539.0" width="20.8" height="7.0" rx="3.5" fill="#3a2a28" opacity="0.95" filter="url(#bl)"/>
<rect x="366.9" y="538.5" width="18.2" height="7.0" rx="3.5" fill="#3a2a28" opacity="0.95" filter="url(#bl)"/>
<rect x="388.7" y="538.2" width="17.9" height="6.0" rx="3.0" fill="#3a2a28" opacity="0.92" filter="url(#bl)"/>
<rect x="411.1" y="538.0" width="18.1" height="5.5" rx="2.8" fill="#3a2a28" opacity="0.92" filter="url(#bl)"/>
<rect x="432.6" y="537.5" width="18.8" height="5.0" rx="2.5" fill="#3a2a28" opacity="0.92" filter="url(#bl)"/>
<rect x="343.4" y="550.2" width="21.5" height="3.2" rx="1.6" fill="#1e2a50" opacity="0.9" filter="url(#bl)"/>
<rect x="368.9" y="550.0" width="15.5" height="2.4" rx="1.2" fill="#1e2a50" opacity="0.55" filter="url(#bl)"/>
<rect x="389.8" y="549.6" width="16.2" height="2.4" rx="1.2" fill="#1e2a50" opacity="0.55" filter="url(#bl)"/>
<rect x="411.7" y="548.3" width="18.2" height="3.0" rx="1.5" fill="#1e2a50" opacity="0.85" filter="url(#bl)"/>
<rect x="433.3" y="547.5" width="18.1" height="3.0" rx="1.5" fill="#1e2a50" opacity="0.85" filter="url(#bl)"/>
<rect x="455.5" y="547.7" width="16.8" height="1.6" rx="0.8" fill="#1e2a50" opacity="0.3" filter="url(#bl)"/>
<text transform="translate(349.61,602.00) scale(0.9377,1)" font-size="14.6" font-weight="bold" fill="#000" >PAD4</text>
<text transform="translate(385.11,597.60) scale(1.2492,1)" font-size="7.8" font-weight="bold" fill="#000" >+/+</text>
<text transform="translate(420.42,602.00) scale(0.9295,1)" font-size="14.6" font-weight="bold" fill="#000" >PAD4</text>
<text transform="translate(456.13,597.60) scale(1.1857,1)" font-size="7.8" font-weight="bold" fill="#000" >-/-</text>
<path d="M341.7,622.3 V608.6 H406.3 V622.3" stroke="#000" stroke-width="2.5" fill="none" />
<path d="M409.8,622.3 V608.6 H474.3 V622.3" stroke="#000" stroke-width="2.5" fill="none" />
<rect x="341.40" y="626.90" width="132.60" height="24.90" fill="#8fb0ee" />
<rect x="341.40" y="659.20" width="132.60" height="33.70" fill="#8fb0ee" />
<text transform="translate(260.22,645.40) scale(1.0083,1)" font-size="16" font-weight="bold" fill="#000" >anti-H3Cit</text>
<text transform="translate(276.61,680.60) scale(1.0226,1)" font-size="16" font-weight="bold" fill="#000" >anti-H3</text>
<text transform="translate(483.64,658.10) scale(1.0084,1)" font-size="17" font-weight="bold" fill="#000" >48h</text>
<text transform="translate(-0.73,728.60) scale(0.9930,1)" font-size="18.5" font-weight="bold" fill="#000" >G</text>
<text transform="translate(53.49,725.10) scale(1.0653,1)" font-size="10.2" font-weight="bold" fill="#000" >IL-6</text>
<text transform="translate(28.91,736.90) scale(1.0263,1)" font-size="10.4" font-weight="bold" fill="#000" >10 mg/kg LPS</text>
<line x1="47.30" y1="754.70" x2="47.30" y2="869.60" stroke="#000" stroke-width="2"/>
<line x1="42.50" y1="755.70" x2="47.30" y2="755.70" stroke="#000" stroke-width="2"/>
<line x1="42.50" y1="793.33" x2="47.30" y2="793.33" stroke="#000" stroke-width="2"/>
<line x1="42.50" y1="830.97" x2="47.30" y2="830.97" stroke="#000" stroke-width="2"/>
<line x1="42.50" y1="868.60" x2="47.30" y2="868.60" stroke="#000" stroke-width="2"/>
<text transform="translate(19.41,758.54) scale(1.0000,1)" font-size="8.1" font-weight="bold" fill="#000" >30000</text>
<text transform="translate(19.41,796.17) scale(1.0000,1)" font-size="8.1" font-weight="bold" fill="#000" >20000</text>
<text transform="translate(19.41,833.80) scale(1.0000,1)" font-size="8.1" font-weight="bold" fill="#000" >10000</text>
<text transform="translate(37.43,871.44) scale(1.0000,1)" font-size="8.1" font-weight="bold" fill="#000" >0</text>
<rect x="87.30" y="782.40" width="14.30" height="86.20" fill="#000" />
<line x1="94.50" y1="773.50" x2="94.50" y2="782.40" stroke="#000" stroke-width="1.5"/>
<line x1="91.90" y1="773.50" x2="98.10" y2="773.50" stroke="#000" stroke-width="1.5"/>
<rect x="107.25" y="781.15" width="12.10" height="87.45" fill="#f80808" stroke="#000" stroke-width="1.5"/>
<line x1="113.30" y1="775.50" x2="113.30" y2="785.30" stroke="#000" stroke-width="1.4"/>
<line x1="109.60" y1="775.50" x2="117.00" y2="775.50" stroke="#000" stroke-width="1.5"/>
<line x1="109.60" y1="785.30" x2="117.00" y2="785.30" stroke="#500" stroke-width="1.3"/>
<line x1="46.30" y1="868.60" x2="121.90" y2="868.60" stroke="#000" stroke-width="2"/>
<line x1="56.50" y1="868.60" x2="56.50" y2="872.90" stroke="#000" stroke-width="2"/>
<line x1="75.80" y1="868.60" x2="75.80" y2="872.90" stroke="#000" stroke-width="2"/>
<line x1="94.50" y1="868.60" x2="94.50" y2="872.90" stroke="#000" stroke-width="2"/>
<line x1="113.30" y1="868.60" x2="113.30" y2="872.90" stroke="#000" stroke-width="2"/>
<text transform="translate(8.60,842.58) rotate(-90) scale(1.0678,1)" font-size="8.4" font-weight="bold" fill="#000" >pg / ml plasma</text>
<text transform="translate(11.46,929.35) rotate(-45) scale(1.0000,1)" font-size="8.8" font-weight="bold" fill="#000" >PAD4+/+ Control</text>
<text transform="translate(32.14,924.97) rotate(-45) scale(1.0000,1)" font-size="8.6" font-weight="bold" fill="#000" >PAD4-/- Control</text>
<text transform="translate(63.78,913.23) rotate(-45) scale(1.0000,1)" font-size="8.4" font-weight="bold" fill="#000" >PAD+/+ 12h</text>
<text transform="translate(82.38,913.53) rotate(-45) scale(1.0000,1)" font-size="8.4" font-weight="bold" fill="#000" >PAD4-/- 12h</text>
<text transform="translate(130.09,728.80) scale(1.0078,1)" font-size="18.5" font-weight="bold" fill="#000" >H</text>
<text transform="translate(173.09,725.50) scale(1.0639,1)" font-size="10.2" font-weight="bold" fill="#000" >IL-10</text>
<text transform="translate(151.10,737.40) scale(1.0383,1)" font-size="10.4" font-weight="bold" fill="#000" >10 mg/kg LPS</text>
<line x1="170.00" y1="755.40" x2="170.00" y2="869.60" stroke="#000" stroke-width="2"/>
<line x1="165.20" y1="756.40" x2="170.00" y2="756.40" stroke="#000" stroke-width="2"/>
<line x1="165.20" y1="784.45" x2="170.00" y2="784.45" stroke="#000" stroke-width="2"/>
<line x1="165.20" y1="812.50" x2="170.00" y2="812.50" stroke="#000" stroke-width="2"/>
<line x1="165.20" y1="840.55" x2="170.00" y2="840.55" stroke="#000" stroke-width="2"/>
<line x1="165.20" y1="868.60" x2="170.00" y2="868.60" stroke="#000" stroke-width="2"/>
<text transform="translate(151.00,759.48) scale(1.0000,1)" font-size="8.8" font-weight="bold" fill="#000" >400</text>
<text transform="translate(151.00,787.53) scale(1.0000,1)" font-size="8.8" font-weight="bold" fill="#000" >300</text>
<text transform="translate(151.00,815.58) scale(1.0000,1)" font-size="8.8" font-weight="bold" fill="#000" >200</text>
<text transform="translate(151.00,843.63) scale(1.0000,1)" font-size="8.8" font-weight="bold" fill="#000" >100</text>
<text transform="translate(160.77,871.68) scale(1.0000,1)" font-size="8.8" font-weight="bold" fill="#000" >0</text>
<line x1="171.00" y1="868.00" x2="190.30" y2="868.00" stroke="#000" stroke-width="1.2"/>
<path d="M191,868.6 Q198,865.2 205,868.6 Z" stroke="#000" stroke-width="0.8" fill="#000" />
<rect x="210.30" y="819.70" width="13.40" height="48.90" fill="#000" />
<line x1="216.90" y1="810.20" x2="216.90" y2="819.70" stroke="#000" stroke-width="1.5"/>
<line x1="213.80" y1="810.20" x2="220.60" y2="810.20" stroke="#000" stroke-width="1.5"/>
<rect x="229.75" y="783.85" width="12.40" height="84.75" fill="#f80808" stroke="#000" stroke-width="1.5"/>
<line x1="235.90" y1="770.80" x2="235.90" y2="796.60" stroke="#000" stroke-width="1.4"/>
<line x1="232.60" y1="770.80" x2="239.50" y2="770.80" stroke="#000" stroke-width="1.5"/>
<line x1="232.60" y1="796.60" x2="239.50" y2="796.60" stroke="#500" stroke-width="1.3"/>
<line x1="169.00" y1="868.60" x2="244.90" y2="868.60" stroke="#000" stroke-width="2"/>
<line x1="179.10" y1="868.60" x2="179.10" y2="872.90" stroke="#000" stroke-width="2"/>
<line x1="198.30" y1="868.60" x2="198.30" y2="872.90" stroke="#000" stroke-width="2"/>
<line x1="216.90" y1="868.60" x2="216.90" y2="872.90" stroke="#000" stroke-width="2"/>
<line x1="235.70" y1="868.60" x2="235.70" y2="872.90" stroke="#000" stroke-width="2"/>
<line x1="216.50" y1="762.80" x2="235.70" y2="762.80" stroke="#000" stroke-width="2"/>
<text transform="translate(223.36,763.46) scale(1.0000,1)" font-size="12" font-weight="bold" fill="#000" >*</text>
<text transform="translate(138.40,842.18) rotate(-90) scale(1.0592,1)" font-size="8.4" font-weight="bold" fill="#000" >pg / ml plasma</text>
<text transform="translate(132.57,927.34) rotate(-45) scale(1.0000,1)" font-size="8.6" font-weight="bold" fill="#000" >PAD4+/+ Control</text>
<text transform="translate(155.14,924.27) rotate(-45) scale(1.0000,1)" font-size="8.6" font-weight="bold" fill="#000" >PAD4-/- Control</text>
<text transform="translate(183.28,916.13) rotate(-45) scale(1.0000,1)" font-size="8.4" font-weight="bold" fill="#000" >PAD4+/+ 12h</text>
<text transform="translate(206.28,913.13) rotate(-45) scale(1.0000,1)" font-size="8.4" font-weight="bold" fill="#000" >PAD4-/- 12h</text>
<text transform="translate(263.67,728.80) scale(1.1929,1)" font-size="18.5" font-weight="bold" fill="#000" >I</text>
<text transform="translate(286.00,730.10) scale(1.1262,1)" font-size="10.1" font-weight="bold" fill="#000" >soluble P-selectin</text>
<text transform="translate(297.39,742.80) scale(1.0084,1)" font-size="10.8" font-weight="bold" fill="#000" >10 mg/kg LPS</text>
<line x1="307.10" y1="751.70" x2="307.10" y2="870.30" stroke="#000" stroke-width="2"/>
<line x1="302.30" y1="752.70" x2="307.10" y2="752.70" stroke="#000" stroke-width="2"/>
<line x1="302.30" y1="781.85" x2="307.10" y2="781.85" stroke="#000" stroke-width="2"/>
<line x1="302.30" y1="811.00" x2="307.10" y2="811.00" stroke="#000" stroke-width="2"/>
<line x1="302.30" y1="840.15" x2="307.10" y2="840.15" stroke="#000" stroke-width="2"/>
<line x1="302.30" y1="869.30" x2="307.10" y2="869.30" stroke="#000" stroke-width="2"/>
<text transform="translate(292.27,755.85) scale(1.0000,1)" font-size="9" font-weight="bold" fill="#000" >20</text>
<text transform="translate(292.13,785.00) scale(1.0000,1)" font-size="9" font-weight="bold" fill="#000" >15</text>
<text transform="translate(292.27,814.15) scale(1.0000,1)" font-size="9" font-weight="bold" fill="#000" >10</text>
<text transform="translate(297.13,843.30) scale(1.0000,1)" font-size="9" font-weight="bold" fill="#000" >5</text>
<text transform="translate(297.26,872.45) scale(1.0000,1)" font-size="9" font-weight="bold" fill="#000" >0</text>
<rect x="312.40" y="788.50" width="27.20" height="80.80" fill="#000" />
<line x1="325.90" y1="783.10" x2="325.90" y2="788.50" stroke="#000" stroke-width="1.5"/>
<line x1="319.40" y1="783.10" x2="333.10" y2="783.10" stroke="#000" stroke-width="1.5"/>
<rect x="352.35" y="848.05" width="25.40" height="21.25" fill="#f80808" stroke="#000" stroke-width="1.5"/>
<line x1="358.10" y1="845.40" x2="372.00" y2="845.40" stroke="#000" stroke-width="1.8"/>
<line x1="365.00" y1="845.40" x2="365.00" y2="848.40" stroke="#000" stroke-width="1.3"/>
<line x1="358.10" y1="848.40" x2="372.00" y2="848.40" stroke="#300" stroke-width="1.6"/>
<line x1="306.10" y1="869.30" x2="384.70" y2="869.30" stroke="#000" stroke-width="2"/>
<line x1="325.90" y1="869.30" x2="325.90" y2="873.60" stroke="#000" stroke-width="2"/>
<line x1="365.00" y1="869.30" x2="365.00" y2="873.60" stroke="#000" stroke-width="2"/>
<line x1="324.60" y1="771.30" x2="364.60" y2="771.30" stroke="#000" stroke-width="2"/>
<text transform="translate(339.29,771.41) scale(1.0000,1)" font-size="11.3" font-weight="bold" fill="#000" >***</text>
<text transform="translate(271.20,855.13) rotate(-90) scale(1.0179,1)" font-size="9.2" font-weight="bold" fill="#000" >sPsel (Fold increase</text>
<text transform="translate(283.10,838.37) rotate(-90) scale(1.0309,1)" font-size="9" font-weight="bold" fill="#000" >over control)</text>
<text transform="translate(291.47,918.80) rotate(-45) scale(1.0000,1)" font-size="8.9" font-weight="bold" fill="#000" >PAD4+/+ 12h</text>
<text transform="translate(332.36,916.06) rotate(-45) scale(1.0000,1)" font-size="9" font-weight="bold" fill="#000" >PAD4-/- 12h</text>
<text transform="translate(398.43,728.90) scale(0.9787,1)" font-size="18.5" font-weight="bold" fill="#000" >J</text>
<text transform="translate(456.88,727.10) scale(1.0370,1)" font-size="11.3" font-weight="bold" fill="#000" >TAT</text>
<text transform="translate(429.74,739.70) scale(1.0123,1)" font-size="11.6" font-weight="bold" fill="#000" >10 mg/kg LPS</text>
<line x1="439.70" y1="748.90" x2="439.70" y2="871.30" stroke="#000" stroke-width="2"/>
<line x1="434.90" y1="749.90" x2="439.70" y2="749.90" stroke="#000" stroke-width="2"/>
<line x1="434.90" y1="773.98" x2="439.70" y2="773.98" stroke="#000" stroke-width="2"/>
<line x1="434.90" y1="798.06" x2="439.70" y2="798.06" stroke="#000" stroke-width="2"/>
<line x1="434.90" y1="822.14" x2="439.70" y2="822.14" stroke="#000" stroke-width="2"/>
<line x1="434.90" y1="846.22" x2="439.70" y2="846.22" stroke="#000" stroke-width="2"/>
<line x1="434.90" y1="870.30" x2="439.70" y2="870.30" stroke="#000" stroke-width="2"/>
<text transform="translate(430.73,753.05) scale(1.0000,1)" font-size="9" font-weight="bold" fill="#000" >5</text>
<text transform="translate(430.55,777.13) scale(1.0000,1)" font-size="9" font-weight="bold" fill="#000" >4</text>
<text transform="translate(430.82,801.21) scale(1.0000,1)" font-size="9" font-weight="bold" fill="#000" >3</text>
<text transform="translate(430.87,825.29) scale(1.0000,1)" font-size="9" font-weight="bold" fill="#000" >2</text>
<text transform="translate(430.73,849.37) scale(1.0000,1)" font-size="9" font-weight="bold" fill="#000" >1</text>
<text transform="translate(430.87,873.45) scale(1.0000,1)" font-size="9" font-weight="bold" fill="#000" >0</text>
<rect x="445.60" y="774.30" width="28.40" height="96.00" fill="#000" />
<line x1="459.80" y1="764.90" x2="459.80" y2="774.30" stroke="#000" stroke-width="1.5"/>
<line x1="452.50" y1="764.90" x2="467.20" y2="764.90" stroke="#000" stroke-width="1.5"/>
<rect x="486.85" y="832.35" width="26.10" height="37.95" fill="#f80808" stroke="#000" stroke-width="1.5"/>
<line x1="499.90" y1="827.20" x2="499.90" y2="836.60" stroke="#000" stroke-width="1.4"/>
<line x1="492.40" y1="827.20" x2="507.40" y2="827.20" stroke="#000" stroke-width="1.5"/>
<line x1="492.40" y1="836.60" x2="507.40" y2="836.60" stroke="#500" stroke-width="1.3"/>
<line x1="438.70" y1="870.30" x2="520.00" y2="870.30" stroke="#000" stroke-width="2"/>
<line x1="460.10" y1="870.30" x2="460.10" y2="874.60" stroke="#000" stroke-width="2"/>
<line x1="499.80" y1="870.30" x2="499.80" y2="874.60" stroke="#000" stroke-width="2"/>
<line x1="457.70" y1="757.80" x2="500.80" y2="757.80" stroke="#000" stroke-width="2"/>
<text transform="translate(473.04,757.51) scale(1.0000,1)" font-size="11.9" font-weight="bold" fill="#000" >***</text>
<text transform="translate(411.80,858.60) rotate(-90) scale(0.9735,1)" font-size="10.2" font-weight="bold" fill="#000" >TAT complexes (Fold</text>
<text transform="translate(422.00,859.99) rotate(-90) scale(0.9997,1)" font-size="9.8" font-weight="bold" fill="#000" >increase over control)</text>
<text transform="translate(423.32,921.94) rotate(-45) scale(1.0000,1)" font-size="9.1" font-weight="bold" fill="#000" >PAD4+/+ 12h</text>
<text transform="translate(466.00,919.57) rotate(-45) scale(1.0000,1)" font-size="9.3" font-weight="bold" fill="#000" >PAD4-/- 12h</text>
</svg>
</body></html>
